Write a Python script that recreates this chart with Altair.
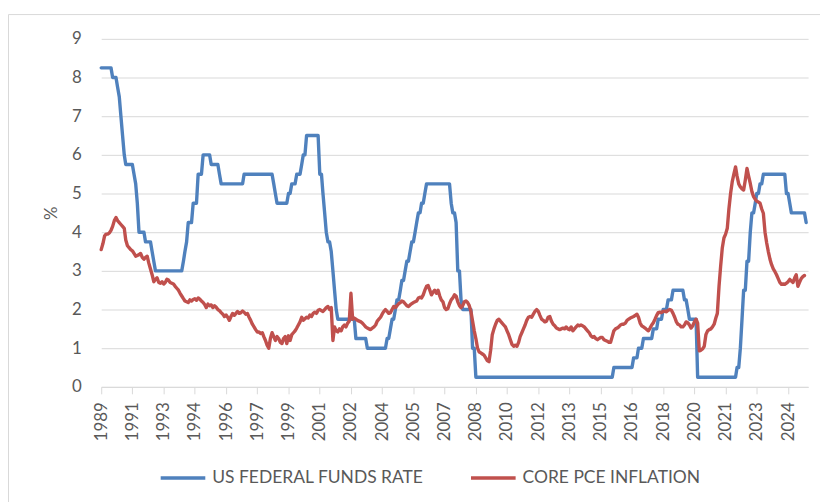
import altair as alt
import pandas as pd

# Monthly observations, first point December 1989
series_names = ["US FEDERAL FUNDS RATE", "CORE PCE INFLATION"]
series_colors = ["#4f81bd", "#c0504d"]

# Fed funds target (upper bound): level and number of months it was held
ffr_level = [8.25, 8.0, 7.75, 7.5, 7.0, 6.5, 6.0, 5.75, 5.5, 5.25, 4.75, 4.0, 3.75, 3.5, 3.25, 3.0,
             3.25, 3.5, 3.75, 4.25, 4.75, 5.5, 6.0, 5.75, 5.5, 5.25, 5.5, 5.25, 5.0, 4.75, 5.0, 5.25,
             5.5, 5.75, 6.0, 6.5, 5.5, 5.0, 4.5, 4.0, 3.75, 3.5, 3.0, 2.5, 2.0, 1.75, 1.25, 1.0,
             1.25, 1.5, 1.75, 2.0, 2.25, 2.5, 2.75, 3.0, 3.25, 3.5, 3.75, 4.0, 4.25, 4.5, 4.75, 5.0,
             5.25, 4.75, 4.5, 4.25, 3.0, 2.25, 2.0, 1.0, 0.25, 0.5, 0.75, 1.0, 1.25, 1.5, 1.75, 2.0,
             2.25, 2.5, 2.25, 2.0, 1.75, 0.25, 0.5, 1.0, 1.75, 2.5, 3.25, 4.0, 4.5, 4.75, 5.0, 5.25,
             5.5, 5.0, 4.75, 4.5, 4.25]
ffr_months = [7, 3, 1, 1, 1, 1, 1, 5, 1, 1, 1, 4, 4, 1, 1, 17,
              1, 1, 1, 3, 3, 3, 5, 5, 1, 14, 18, 1, 1, 7, 2, 3,
              3, 1, 2, 8, 2, 1, 1, 1, 2, 1, 1, 1, 1, 11, 7, 12,
              2, 1, 2, 1, 2, 1, 2, 1, 2, 1, 2, 1, 1, 2, 2, 1,
              15, 1, 2, 1, 2, 1, 6, 2, 84, 12, 3, 3, 6, 3, 3, 3,
              3, 7, 2, 1, 5, 24, 2, 1, 1, 2, 2, 1, 2, 1, 2, 2,
              14, 2, 1, 9, 1]

# Core PCE inflation, % y/y
core_pce = [
    3.55, 3.7, 3.9, 3.95, 3.95, 3.98, 4.05, 4.15, 4.3, 4.38, 4.3, 4.25,
    4.2, 4.15, 4.1, 3.8, 3.65, 3.6, 3.55, 3.52, 3.45, 3.38, 3.4, 3.42,
    3.45, 3.35, 3.3, 3.35, 3.38, 3.2, 3.05, 2.9, 2.72, 2.78, 2.82, 2.7,
    2.68, 2.72, 2.66, 2.7, 2.78, 2.76, 2.7, 2.68, 2.66, 2.6, 2.55, 2.5,
    2.42, 2.35, 2.28, 2.22, 2.2, 2.18, 2.25, 2.22, 2.26, 2.28, 2.24, 2.3,
    2.27, 2.22, 2.18, 2.13, 2.05, 2.14, 2.1, 2.12, 2.05, 2.1, 2.06, 2.0,
    1.97, 1.92, 1.88, 1.82, 1.86, 1.8, 1.72, 1.82, 1.9, 1.85, 1.9, 1.95,
    1.9, 1.92, 1.96, 1.93, 1.88, 1.9, 1.8, 1.72, 1.62, 1.55, 1.48, 1.42,
    1.42, 1.38, 1.4, 1.3, 1.2, 1.08, 1.0, 1.25, 1.4, 1.3, 1.2, 1.3,
    1.25, 1.15, 1.12, 1.25, 1.3, 1.12, 1.32, 1.2, 1.35, 1.4, 1.45, 1.52,
    1.6, 1.68, 1.8, 1.72, 1.76, 1.8, 1.78, 1.86, 1.82, 1.9, 1.93, 1.9,
    1.98, 2.0, 1.97, 1.95, 2.0, 2.05, 2.08, 2.0, 2.05, 1.2, 1.55, 1.45,
    1.42, 1.5, 1.45, 1.55, 1.6, 1.55, 1.65, 1.7, 2.42, 1.75, 1.78, 1.75,
    1.72, 1.7, 1.68, 1.65, 1.6, 1.55, 1.52, 1.5, 1.48, 1.52, 1.55, 1.6,
    1.7, 1.75, 1.8, 1.88, 1.95, 2.0, 1.95, 1.9, 1.92, 2.0, 2.08, 2.05,
    2.1, 2.15, 2.18, 2.22, 2.2, 2.15, 2.1, 2.08, 2.12, 2.15, 2.18, 2.2,
    2.22, 2.3, 2.32, 2.3, 2.38, 2.5, 2.6, 2.62, 2.5, 2.38, 2.45, 2.5,
    2.42, 2.5, 2.35, 2.25, 2.2, 2.05, 2.0, 2.02, 2.15, 2.25, 2.3, 2.38,
    2.35, 2.2, 2.1, 2.05, 2.1, 2.2, 2.22, 2.18, 2.1, 1.95, 1.7, 1.45,
    1.25, 1.0, 0.9, 0.88, 0.85, 0.82, 0.75, 0.68, 0.65, 0.95, 1.35, 1.5,
    1.62, 1.72, 1.75, 1.7, 1.65, 1.6, 1.55, 1.45, 1.35, 1.22, 1.1, 1.05,
    1.08, 1.05, 1.15, 1.3, 1.4, 1.5, 1.6, 1.72, 1.8, 1.82, 1.8, 1.88,
    1.95, 2.0, 1.95, 1.85, 1.75, 1.72, 1.68, 1.7, 1.8, 1.82, 1.7, 1.62,
    1.58, 1.52, 1.5, 1.48, 1.5, 1.52, 1.5, 1.55, 1.5, 1.48, 1.55, 1.45,
    1.5, 1.55, 1.6, 1.58, 1.6, 1.58, 1.55, 1.5, 1.45, 1.4, 1.32, 1.28,
    1.3, 1.25, 1.22, 1.25, 1.28, 1.28, 1.22, 1.2, 1.18, 1.15, 1.15, 1.3,
    1.45, 1.5, 1.52, 1.55, 1.6, 1.62, 1.62, 1.65, 1.72, 1.75, 1.78, 1.8,
    1.82, 1.85, 1.88, 1.8, 1.65, 1.58, 1.55, 1.52, 1.48, 1.45, 1.52, 1.6,
    1.66, 1.75, 1.85, 1.92, 1.93, 1.92, 1.95, 1.96, 1.94, 1.98, 2.0, 1.98,
    1.9, 1.8, 1.68, 1.62, 1.6, 1.55, 1.55, 1.6, 1.68, 1.66, 1.6, 1.52,
    1.58, 1.68, 1.75, 1.65, 0.93, 0.95, 0.98, 1.05, 1.35, 1.45, 1.48, 1.5,
    1.55, 1.62, 1.78, 1.9, 2.6, 3.12, 3.6, 3.85, 3.95, 4.1, 4.6, 5.0,
    5.3, 5.5, 5.69, 5.45, 5.25, 5.17, 5.12, 5.09, 5.35, 5.65, 5.45, 5.26,
    5.05, 4.92, 4.85, 4.8, 4.78, 4.75, 4.6, 4.49, 4.0, 3.72, 3.5, 3.3,
    3.16, 3.05, 2.98, 2.9, 2.8, 2.7, 2.65, 2.66, 2.65, 2.68, 2.72, 2.78,
    2.74, 2.7, 2.82, 2.9, 2.6, 2.7, 2.8, 2.85, 2.88,
]

months = pd.date_range("1989-12-01", periods=430, freq="MS")
tick_months = months[::19]

ffr = []
for lvl, n in zip(ffr_level, ffr_months):
    ffr += [lvl] * n

df = pd.concat([
    pd.DataFrame({"date": months[:len(ffr)], "value": ffr[:len(months)], "series": series_names[0]}),
    pd.DataFrame({"date": months[:len(core_pce)], "value": core_pce[:len(months)], "series": series_names[1]}),
], ignore_index=True)
df["date"] = df["date"].dt.strftime("%Y-%m-%d")

FONT = "Lato"
TXT = "#595959"
GRID = "#d9d9d9"

x_enc = alt.X(
    "date:T",
    scale=alt.Scale(domain=[alt.DateTime(year=1989, month=12, date=1),
                            alt.DateTime(year=2025, month=10, date=7)], nice=False),
    axis=alt.Axis(
        values=[alt.DateTime(year=d.year, month=d.month, date=1) for d in tick_months],
        format="%Y", labelAngle=270, labelFont=FONT, labelFontSize=17, labelColor=TXT,
        tickColor=GRID, tickSize=7, tickWidth=1, domainColor=GRID, domainWidth=1,
        labelPadding=8, grid=False, title=None, labelOverlap=False, labelFlush=False,
    ),
)
y_enc = alt.Y(
    "value:Q",
    scale=alt.Scale(domain=[0, 9], nice=False, zero=True),
    axis=alt.Axis(
        values=list(range(10)), title="%", titleFont=FONT, titleFontSize=17,
        titleFontWeight="normal", titleColor=TXT, titleAngle=270, titleX=-50, titleY=175.5,
        titleAlign="center", titleBaseline="middle",
        labelFont=FONT, labelFontSize=17, labelColor=TXT, labelPadding=20,
        ticks=False, tickSize=0, domain=False, grid=True, gridColor=GRID, gridWidth=1,
    ),
)
color_enc = alt.Color(
    "series:N",
    scale=alt.Scale(domain=series_names, range=series_colors),
    legend=alt.Legend(
        title=None, orient="none", legendX=58, legendY=418, direction="horizontal",
        symbolType="stroke", symbolSize=2025, symbolStrokeWidth=3.5,
        labelFont=FONT, labelFontSize=17.6, labelColor=TXT, labelOffset=5,
        columnPadding=40, padding=0, labelLimit=400,
    ),
)

base = alt.Chart(df).mark_line(strokeWidth=3.4, strokeJoin="round", strokeCap="round").encode(
    x=x_enc, y=y_enc, color=color_enc
)
blue = base.transform_filter(alt.datum.series == series_names[0])
red = base.transform_filter(alt.datum.series == series_names[1])

frame = alt.Chart(pd.DataFrame({"k": [0]})).mark_rect(
    fillOpacity=0, stroke=GRID, strokeWidth=1
).encode(x=alt.value(-93.5), x2=alt.value(900), y=alt.value(-24.5), y2=alt.value(700))

chart = alt.layer(frame, blue, red).properties(
    width=713, height=351,
    padding={"left": 94, "top": 29, "right": 12, "bottom": 114},
    autosize=alt.AutoSizeParams(type="none"),
    background="white",
).configure_view(stroke=None)

chart.save("out.html", embed_options={"renderer": "svg", "actions": False})
